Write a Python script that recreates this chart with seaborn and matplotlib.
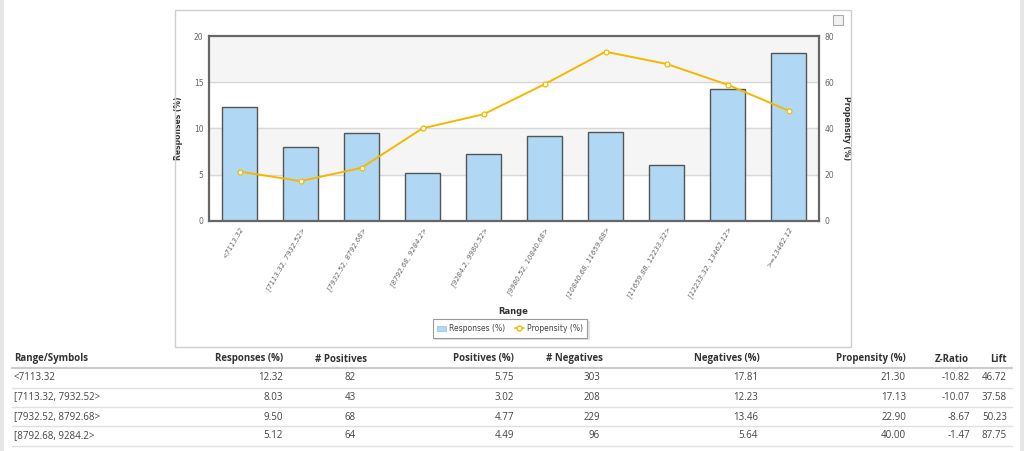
import matplotlib.pyplot as plt
import pandas as pd
import numpy as np
import seaborn as sns
from matplotlib.lines import Line2D
from matplotlib.patches import Patch, Rectangle

sns.set_theme(style="white")
plt.rcParams['font.family'] = ['DejaVu Sans']

ranges = ["<7113.32", "[7113.32, 7932.52>", "[7932.52, 8792.68>", "[8792.68, 9284.2>",
          "[9284.2, 9980.52>", "[9980.52, 10840.68>", "[10840.68, 11659.88>",
          "[11659.88, 12233.32>", "[12233.32, 13462.12>", ">=13462.12"]
responses = [12.32, 8.03, 9.50, 5.12, 7.22, 9.21, 9.64, 6.07, 14.30, 18.20]
propensity = [21.30, 17.13, 22.90, 40.00, 46.1, 59.1, 73.2, 67.9, 58.9, 47.7]

# table rows shown under the chart
tbl_header = ["Range/Symbols", "Responses (%)", "# Positives", "Positives (%)", "# Negatives",
              "Negatives (%)", "Propensity (%)", "Z-Ratio", "Lift"]
tbl_range = ["<7113.32", "[7113.32, 7932.52>", "[7932.52, 8792.68>", "[8792.68, 9284.2>"]
tbl_resp = ["12.32", "8.03", "9.50", "5.12"]
tbl_npos = ["82", "43", "68", "64"]
tbl_pos = ["5.75", "3.02", "4.77", "4.49"]
tbl_nneg = ["303", "208", "229", "96"]
tbl_neg = ["17.81", "12.23", "13.46", "5.64"]
tbl_prop = ["21.30", "17.13", "22.90", "40.00"]
tbl_z = ["-10.82", "-10.07", "-8.67", "-1.47"]
tbl_lift = ["46.72", "37.58", "50.23", "87.75"]

df = pd.DataFrame({"range": ranges, "responses": responses, "propensity": propensity})

W, H = 1024, 451
fig = plt.figure(figsize=(W / 100, H / 100), dpi=100)
fig.patch.set_facecolor("white")

def fx(px):
    return px / W

def fy(py):
    return 1 - py / H

# chart frame + page edges
fig.add_artist(Rectangle((fx(175), fy(347)), fx(851) - fx(175), fy(10) - fy(347),
                         transform=fig.transFigure, fill=False, edgecolor="#cfcfcf", lw=1))
fig.add_artist(Rectangle((0, 0), fx(4), 1, transform=fig.transFigure, color="#e6e6e6", lw=0))
fig.add_artist(Rectangle((fx(1020), 0), fx(4), 1, transform=fig.transFigure, color="#e6e6e6", lw=0))
# menu icon
fig.add_artist(Rectangle((fx(833), fy(25)), fx(10), fy(15) - fy(25), transform=fig.transFigure,
                         facecolor="#f2f2f2", edgecolor="#aaaaaa", lw=0.8))

ax = fig.add_axes([fx(209), fy(220.7), fx(819) - fx(209), fy(36) - fy(220.7)])
ax.axhspan(5, 10, color="#f5f5f5", zorder=0)
ax.axhspan(15, 20, color="#f5f5f5", zorder=0)
for v in [5, 10, 15]:
    ax.axhline(v, color="#d8d8d8", lw=1, zorder=0.5)

sns.barplot(data=df, x="range", y="responses", color="#b0d8f5", saturation=1,
            edgecolor="#555555", linewidth=1, width=0.57, ax=ax, zorder=2)
ax.set_ylim(0, 20)
ax.set_xlim(-0.5, len(ranges) - 0.5)
ax.set_yticks([0, 5, 10, 15, 20])
ax.set_ylabel("Responses (%)", fontsize=5.5, fontweight="bold", color="#333333", labelpad=8)
ax.set_xlabel("")
ax.set_xticks(range(len(ranges)))
ax.set_xticklabels(ranges, rotation=60, ha="right", rotation_mode="anchor",
                   fontsize=5.0, color="#666666", fontstyle="italic")
ax.tick_params(axis="both", length=0, pad=4, labelsize=5.5, labelcolor="#666666")
ax.tick_params(axis="x", labelsize=5.0)
for s in ax.spines.values():
    s.set_color("#666666")
    s.set_linewidth(1.6)

# x title sits at a fixed spot above the legend
fig.text(fx(513), fy(311), "Range", ha="center", va="center", fontsize=6,
         fontweight="bold", color="#333333")

ax2 = ax.twinx()
sns.pointplot(data=df, x="range", y="propensity", color="#f4b800", markers="o",
              linestyles="-", ax=ax2, markersize=3.5, linewidth=1.4,
              markerfacecolor="white", markeredgecolor="#f4b800", markeredgewidth=0.9)
ax2.set_ylim(0, 80)
ax2.set_xlim(-0.5, len(ranges) - 0.5)
ax2.set_yticks([0, 20, 40, 60, 80])
ax2.set_ylabel("Propensity (%)", fontsize=5.5, fontweight="bold", color="#333333",
               rotation=270, labelpad=12)
ax2.tick_params(axis="y", length=0, pad=4, labelsize=5.5, labelcolor="#666666")
ax2.set_xlabel("")
for s in ax2.spines.values():
    s.set_visible(False)
ax2.grid(False)

handles = [Patch(facecolor="#b0d8f5", edgecolor="#8fc0e8", lw=0.5),
           Line2D([0], [0], color="#f4b800", marker="o", markerfacecolor="white",
                  markersize=3.5, lw=1.2)]
leg = fig.legend(handles, ["Responses (%)", "Propensity (%)"], loc="center",
                 bbox_to_anchor=(fx(510), fy(328.5)), ncol=2, fontsize=5.5, frameon=True,
                 fancybox=False, shadow={"ox": 1.2, "oy": -1.2, "color": "#d0d0d0"},
                 handlelength=1.2, handletextpad=0.4,
                 columnspacing=1.2, borderpad=0.6)
leg.get_frame().set_edgecolor("#999999")
leg.get_frame().set_linewidth(0.8)
for t in leg.get_texts():
    t.set_color("#444444")

# table below the chart
tfont = ['Open Sans', 'DejaVu Sans']
cols_x = [14, 283, 367, 514, 603, 760, 906, 969, 1007]
cols_ha = ["left"] + ["right"] * 8
vals_x = [14, 283, 356, 514, 600, 758, 906, 970, 1007]
header_y = 359
row_y = [378, 397, 417, 436]
line_y = [368, 388, 407, 426, 446]

for h, x, ha in zip(tbl_header, cols_x, cols_ha):
    fig.text(fx(x), fy(header_y), h, ha=ha, va="center", fontsize=7, fontweight="bold",
             color="#333333", family=tfont)

columns = [tbl_range, tbl_resp, tbl_npos, tbl_pos, tbl_nneg, tbl_neg, tbl_prop, tbl_z, tbl_lift]
for col, x, ha in zip(columns, vals_x, cols_ha):
    for val, y in zip(col, row_y):
        fig.text(fx(x), fy(y), val, ha=ha, va="center", fontsize=7, color="#444444",
                 family=tfont)

for i, y in enumerate(line_y):
    fig.add_artist(Line2D([fx(12), fx(1012)], [fy(y), fy(y)], transform=fig.transFigure,
                          color="#cccccc" if i == 0 else "#e0e0e0", lw=1.5 if i == 0 else 1))

fig.savefig("out.png", dpi=100)
